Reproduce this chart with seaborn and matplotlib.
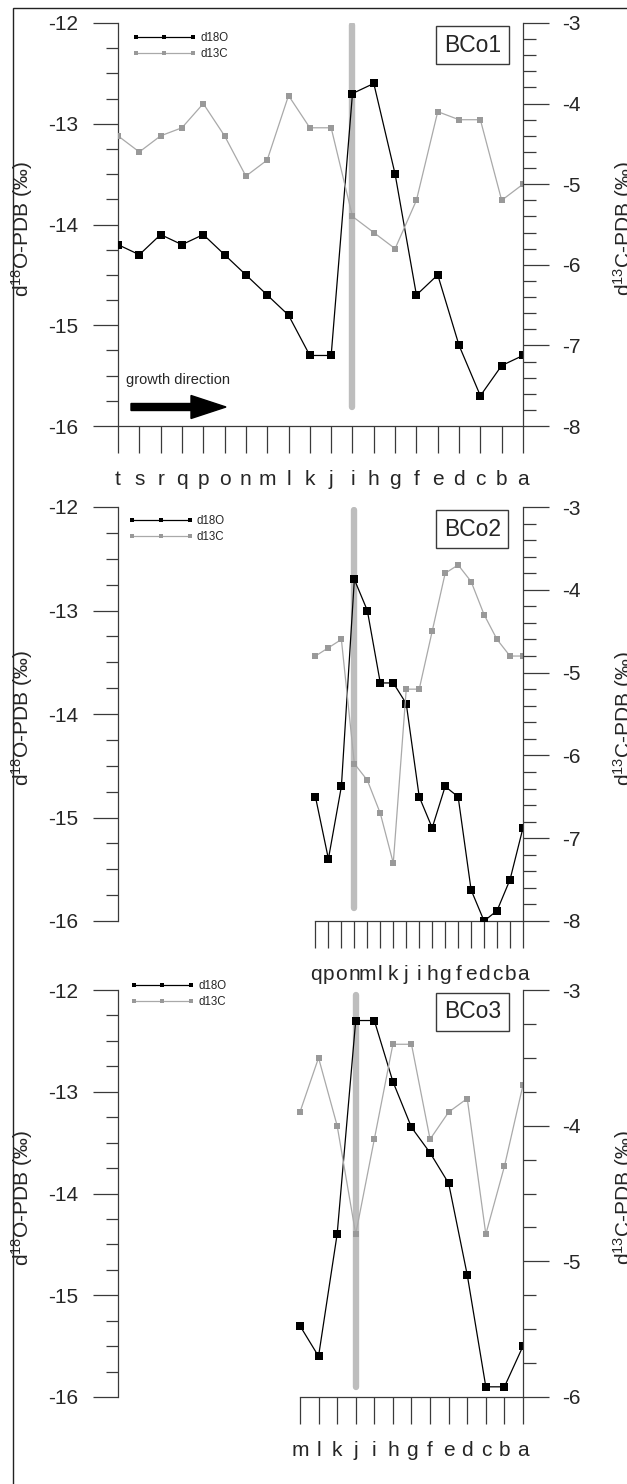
import numpy as np
import pandas as pd
import matplotlib
matplotlib.use("Agg")
import matplotlib.pyplot as plt
import seaborn as sns
from matplotlib.ticker import MultipleLocator, FormatStrFormatter
from matplotlib.patches import FancyArrow, Rectangle
from matplotlib.transforms import IdentityTransform

# ---------------- data ----------------
cats1 = list("tsrqponmlkjihgfedcba")
d18o_1 = [-14.2, -14.3, -14.1, -14.2, -14.1, -14.3, -14.5, -14.7, -14.9, -15.3,
          -15.3, -12.7, -12.6, -13.5, -14.7, -14.5, -15.2, -15.7, -15.4, -15.3]
d13c_1 = [-4.4, -4.6, -4.4, -4.3, -4.0, -4.4, -4.9, -4.7, -3.9, -4.3,
          -4.3, -5.4, -5.6, -5.8, -5.2, -4.1, -4.2, -4.2, -5.2, -5.0]

cats2 = list("qponmlkjihgfedcba")
d18o_2 = [-14.8, -15.4, -14.7, -12.7, -13.0, -13.7, -13.7, -13.9, -14.8,
          -15.1, -14.7, -14.8, -15.7, -16.0, -15.9, -15.6, -15.1]
d13c_2 = [-4.8, -4.7, -4.6, -6.1, -6.3, -6.7, -7.3, -5.2, -5.2,
          -4.5, -3.8, -3.7, -3.9, -4.3, -4.6, -4.8, -4.8]

cats3 = list("mlkjihgfedcba")
d18o_3 = [-15.3, -15.6, -14.4, -12.3, -12.3, -12.9, -13.35, -13.6, -13.9,
          -14.8, -15.9, -15.9, -15.5]
d13c_3 = [-3.9, -3.5, -4.0, -4.8, -4.1, -3.4, -3.4, -4.1, -3.9,
          -3.8, -4.8, -4.3, -3.7]

sample_names = ["BCo1", "BCo2", "BCo3"]
marked_cats = ["i", "n", "j"]
series_labels = ["d18O", "d13C"]

# ---------------- style ----------------
sns.set_style("ticks")
plt.rcParams["font.family"] = ["Liberation Sans", "DejaVu Sans"]
plt.rcParams["mathtext.fontset"] = "custom"
plt.rcParams["mathtext.rm"] = "Liberation Sans"
plt.rcParams["mathtext.it"] = "Liberation Sans:italic"
plt.rcParams["axes.unicode_minus"] = False

W, H = 627, 1484
fig = plt.figure(figsize=(W / 100, H / 100), dpi=100)

SPINE = "#3a3a3a"
TXT = "#262626"
BAR = "#bdbdbd"
GRAY_LINE = "#a9a9a9"
GRAY_MK = "#999999"
FS = 15

# layout (pixels, top-left origin): top, bottom of axes
panels = [
    dict(cats=cats1, o=d18o_1, c=d13c_1, top=23, bot=426, xlim=(0, 19),
         ylim2=(-8, -3), minor2=0.2, bar=(-12.02, -15.81), leg=(0.035, 0.977)),
    dict(cats=cats2, o=d18o_2, c=d13c_2, top=507, bot=921, xlim=(-15.22, 16),
         ylim2=(-8, -3), minor2=0.2, bar=(-12.03, -15.87), leg=(0.027, 0.980)),
    dict(cats=cats3, o=d18o_3, c=d13c_3, top=990, bot=1397, xlim=(-9.79, 12),
         ylim2=(-6, -3), minor2=0.25, bar=(-12.05, -15.9), leg=(0.03, 1.024)),
]
LEFT, RIGHT = 118, 523

for k, p in enumerate(panels):
    ax = fig.add_axes([LEFT / W, 1 - p["bot"] / H, (RIGHT - LEFT) / W,
                       (p["bot"] - p["top"]) / H])
    cats = p["cats"]
    pos = np.arange(len(cats))
    df = pd.DataFrame({"pos": pos, "d18O": p["o"], "d13C": p["c"]})

    bi = cats.index(marked_cats[k])
    ax.plot([pos[bi], pos[bi]], p["bar"], color=BAR, lw=4.6,
            solid_capstyle="round", zorder=1)

    sns.lineplot(data=df, x="pos", y="d18O", ax=ax, color="black", marker="s",
                 markersize=5.3, markeredgewidth=0, linewidth=0.9, legend=False,
                 zorder=3)
    h1 = ax.lines[-1]

    ax2 = ax.twinx()
    sns.lineplot(data=df, x="pos", y="d13C", ax=ax2, color=GRAY_LINE, marker="s",
                 markersize=4.9, markerfacecolor=GRAY_MK, markeredgewidth=0,
                 linewidth=0.9, legend=False)
    h2 = ax2.lines[-1]

    ax.set_xlim(*p["xlim"])
    ax.set_ylim(-16, -12)
    ax2.set_xlim(*p["xlim"])
    ax2.set_ylim(*p["ylim2"])
    ax.set_xticks(pos)
    ax.set_xticklabels(cats)
    ax.set_xlabel("")
    ax.spines["bottom"].set_bounds(0, len(cats) - 1)
    for s in ["top", "right"]:
        ax.spines[s].set_visible(False)
    for s in ["top", "left", "bottom"]:
        ax2.spines[s].set_visible(False)
    for sp in [ax.spines["left"], ax.spines["bottom"], ax2.spines["right"]]:
        sp.set_color(SPINE)
        sp.set_linewidth(0.9)

    ax.yaxis.set_major_locator(MultipleLocator(1))
    ax.yaxis.set_minor_locator(MultipleLocator(0.25))
    ax.yaxis.set_major_formatter(FormatStrFormatter("%d"))
    ax.tick_params(axis="y", which="major", length=18, width=0.9, pad=10.5,
                   labelsize=FS, color=SPINE, labelcolor=TXT)
    ax.tick_params(axis="y", which="minor", length=8.6, width=0.9, color=SPINE)
    ax.tick_params(axis="x", which="major", length=19.4, width=0.9, pad=12.5,
                   labelsize=FS, color=SPINE, labelcolor=TXT)

    ax2.yaxis.set_major_locator(MultipleLocator(1))
    ax2.yaxis.set_minor_locator(MultipleLocator(p["minor2"]))
    ax2.yaxis.set_major_formatter(FormatStrFormatter("%d"))
    ax2.tick_params(axis="y", which="major", length=18.7, width=0.9, pad=9.4,
                    labelsize=FS, color=SPINE, labelcolor=TXT)
    ax2.tick_params(axis="y", which="minor", length=9.4, width=0.9, color=SPINE)

    ax.set_ylabel("d$^{18}$O-PDB (‰)", fontsize=FS, color=TXT)
    ax.yaxis.set_label_coords(-0.205, 0.49)
    ax2.set_ylabel("d$^{13}$C-PDB (‰)", fontsize=FS, color=TXT)
    ax2.yaxis.set_label_coords(1.217, 0.49)

    ax2.legend(handles=[h1, h2], labels=series_labels, loc="upper left",
               bbox_to_anchor=p["leg"], frameon=False, fontsize=8.3,
               numpoints=3, handlelength=5.6, handletextpad=0.3,
               labelspacing=0.3, borderpad=0, borderaxespad=0,
               markerscale=0.5, labelcolor=TXT)

    by = 1 - (22 / (p["bot"] - p["top"]))
    ax2.text(0.875, by, sample_names[k], transform=ax2.transAxes, fontsize=16.5,
             ha="center", va="center", color=TXT,
             bbox=dict(boxstyle="square,pad=0.33", fc="white", ec=SPINE, lw=1.0))

    if k == 0:
        ax2.text(0.02, 0.114, "growth direction", transform=ax2.transAxes,
                 fontsize=10.5, ha="left", va="center", color=TXT)

# growth arrow (display pixels)
arrow = FancyArrow(131, H - 407, 95, 0, width=7, head_width=23, head_length=35,
                   length_includes_head=True, color="black",
                   transform=IdentityTransform())
fig.add_artist(arrow)

# outer frame (partially cropped as in reference)
frame = Rectangle((13, -20), 800, H - 8 + 20, fill=False, ec="#222222", lw=1.0,
                  transform=IdentityTransform())
fig.add_artist(frame)

fig.savefig("out.png", dpi=100)
